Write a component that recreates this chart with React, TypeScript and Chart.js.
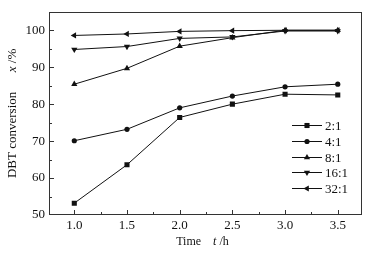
import React, { useEffect, useRef } from "react";
import { Chart, registerables } from "chart.js";

Chart.register(...registerables);

const times = [1.0, 1.5, 2.0, 2.5, 3.0, 3.5];
const ratio2 = [53.2, 63.6, 76.4, 80.0, 82.7, 82.5];
const ratio4 = [70.1, 73.2, 79.0, 82.2, 84.7, 85.4];
const ratio8 = [85.4, 89.7, 95.7, 98.0, 100.0, 100.0];
const ratio16 = [94.8, 95.6, 97.8, 98.2, 99.8, 99.8];
const ratio32 = [98.6, 99.0, 99.7, 99.9, 100.0, 100.0];
const seriesLabels = ["2:1", "4:1", "8:1", "16:1", "32:1"];
const xTicks = [1.0, 1.5, 2.0, 2.5, 3.0, 3.5];
const yTicks = [50, 60, 70, 80, 90, 100];

const FONT = "'Liberation Serif', 'DejaVu Serif', serif";
const INK = "#111";

function drawParts(ctx: CanvasRenderingContext2D, parts: { t: string; f: string }[], cx: number, cy: number) {
  let total = 0;
  const widths = parts.map((p) => {
    ctx.font = p.f;
    const w = ctx.measureText(p.t).width;
    total += w;
    return w;
  });
  let px = cx - total / 2;
  parts.forEach((p, i) => {
    ctx.font = p.f;
    ctx.fillText(p.t, px, cy);
    px += widths[i];
  });
}

function drawMarker(ctx: CanvasRenderingContext2D, style: string, r: number, rot: number, cx: number, cy: number) {
  ctx.save();
  ctx.translate(cx, cy);
  ctx.rotate((rot * Math.PI) / 180);
  ctx.beginPath();
  if (style === "rect") {
    const s = Math.SQRT1_2 * r;
    ctx.rect(-s, -s, 2 * s, 2 * s);
  } else if (style === "triangle") {
    const half = (r * Math.sqrt(3)) / 2;
    ctx.moveTo(0, -r);
    ctx.lineTo(half, r / 2);
    ctx.lineTo(-half, r / 2);
    ctx.closePath();
  } else {
    ctx.arc(0, 0, r, 0, Math.PI * 2);
  }
  ctx.fill();
  ctx.restore();
}

const framePlugin = {
  id: "framePlugin",
  afterDraw(chart: any) {
    const { ctx, chartArea: a, scales } = chart;
    const x = scales.x;
    const y = scales.y;
    ctx.save();
    ctx.strokeStyle = "#333";
    ctx.lineWidth = 1;
    ctx.strokeRect(Math.round(a.left) + 0.5, Math.round(a.top) + 0.5, Math.round(a.width) - 1, Math.round(a.height) - 1);

    // inward ticks
    ctx.beginPath();
    const xStep = xTicks[1] - xTicks[0];
    for (let v = xTicks[0] - xStep / 2; v <= xTicks[xTicks.length - 1] + xStep / 2 + 1e-9; v += xStep / 2) {
      const px = Math.round(x.getPixelForValue(v)) + 0.5;
      if (px < a.left || px > a.right) continue;
      const major = xTicks.some((t) => Math.abs(t - v) < 1e-6);
      const len = major ? 5 : 3;
      ctx.moveTo(px, a.bottom);
      ctx.lineTo(px, a.bottom - len);
    }
    const yStep = yTicks[1] - yTicks[0];
    for (let v = yTicks[0]; v <= yTicks[yTicks.length - 1] + yStep / 2 + 1e-9; v += yStep / 2) {
      const py = Math.round(y.getPixelForValue(v)) + 0.5;
      if (py < a.top || py > a.bottom) continue;
      const major = yTicks.some((t) => Math.abs(t - v) < 1e-6);
      const len = major ? 5 : 3;
      ctx.moveTo(a.left, py);
      ctx.lineTo(a.left + len, py);
    }
    ctx.stroke();

    // legend
    const rowGap = 15.8;
    const firstRow = a.bottom - 90;
    const lineX0 = a.right - 70;
    const lineX1 = a.right - 40;
    chart.data.datasets.forEach((ds: any, i: number) => {
      const ry = Math.round(firstRow + i * rowGap) + 0.5;
      ctx.strokeStyle = INK;
      ctx.lineWidth = 1;
      ctx.beginPath();
      ctx.moveTo(lineX0, ry);
      ctx.lineTo(lineX1, ry);
      ctx.stroke();
      ctx.fillStyle = INK;
      drawMarker(ctx, ds.pointStyle, ds.pointRadius, ds.pointRotation || 0, (lineX0 + lineX1) / 2, ry);
      ctx.font = `13px ${FONT}`;
      ctx.textAlign = "left";
      ctx.textBaseline = "middle";
      ctx.fillText(ds.label, lineX1 + 3, ry + 1);
    });

    // axis titles
    ctx.fillStyle = INK;
    ctx.textBaseline = "middle";
    ctx.textAlign = "left";
    const xParts = [
      { t: "Time", f: `12px ${FONT}` },
      { t: "    ", f: `12px ${FONT}` },
      { t: "t", f: `italic 12px ${FONT}` },
      { t: " /h", f: `12px ${FONT}` },
    ];
    drawParts(ctx, xParts, (a.left + a.right) / 2 - 3, 242);
    ctx.save();
    ctx.translate(13, (a.top + a.bottom) / 2);
    ctx.rotate(-Math.PI / 2);
    const yParts = [
      { t: "DBT conversion", f: `13px ${FONT}` },
      { t: "      ", f: `13px ${FONT}` },
      { t: "x", f: `italic 13px ${FONT}` },
      { t: " /%", f: `13px ${FONT}` },
    ];
    drawParts(ctx, yParts, 0, 0);
    ctx.restore();
    ctx.restore();
  },
};

export default function App() {
  const ref = useRef<HTMLCanvasElement | null>(null);
  useEffect(() => {
    document.body.style.margin = "0";
    const canvas = ref.current;
    if (!canvas) return;
    const mk = (label: string, data: number[], pointStyle: string, pointRadius: number, pointRotation = 0) => ({
      label,
      data: times.map((t, i) => ({ x: t, y: data[i] })),
      borderColor: INK,
      backgroundColor: INK,
      pointBackgroundColor: INK,
      pointBorderColor: INK,
      borderWidth: 1,
      pointBorderWidth: 0,
      pointStyle,
      pointRadius,
      pointRotation,
      tension: 0,
      fill: false,
    });
    const chart = new Chart(canvas, {
      type: "line",
      data: {
        datasets: [
          mk(seriesLabels[0], ratio2, "rect", 3.6),
          mk(seriesLabels[1], ratio4, "circle", 2.6),
          mk(seriesLabels[2], ratio8, "triangle", 3.6),
          mk(seriesLabels[3], ratio16, "triangle", 3.6, 180),
          mk(seriesLabels[4], ratio32, "triangle", 3.6, 270),
        ] as any,
      },
      options: {
        animation: false,
        responsive: false,
        maintainAspectRatio: false,
        devicePixelRatio: 1,
        layout: { padding: { top: 7, right: 10, left: 0, bottom: 0 } },
        plugins: { legend: { display: false }, tooltip: { enabled: false } },
        scales: {
          x: {
            type: "linear",
            min: 0.76,
            max: 3.73,
            grid: { display: false, drawTicks: false },
            border: { display: false },
            afterBuildTicks: (s: any) => {
              s.ticks = xTicks.map((v) => ({ value: v }));
            },
            afterFit: (s: any) => {
              s.height = 42;
            },
            ticks: {
              padding: 3,
              color: INK,
              font: { family: FONT, size: 13 },
              callback: (v: any) => Number(v).toFixed(1),
              maxRotation: 0,
            },
          },
          y: {
            type: "linear",
            min: 50,
            max: 105,
            grid: { display: false, drawTicks: false },
            border: { display: false },
            afterBuildTicks: (s: any) => {
              s.ticks = yTicks.map((v) => ({ value: v }));
            },
            afterFit: (s: any) => {
              s.width = 49;
            },
            ticks: {
              padding: 4,
              color: INK,
              font: { family: FONT, size: 13 },
              callback: (v: any) => String(v),
            },
          },
        },
      },
      plugins: [framePlugin],
    });
    return () => chart.destroy();
  }, []);
  return <canvas ref={ref} width={372} height={257} style={{ display: "block", width: 372, height: 257 }} />;
}
